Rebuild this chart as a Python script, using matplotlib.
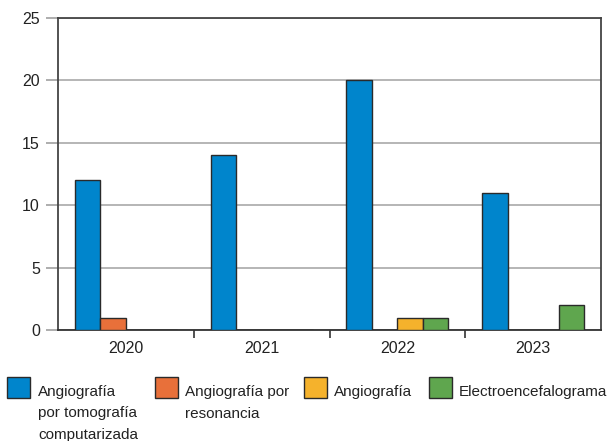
import matplotlib
matplotlib.use("Agg")
import matplotlib.pyplot as plt
import numpy as np
from matplotlib.patches import Rectangle

years = ["2020", "2021", "2022", "2023"]
series_labels = ["Angiografía\npor tomografía\ncomputarizada",
                 "Angiografía por\nresonancia",
                 "Angiografía",
                 "Electroencefalograma"]
values = {
    "ct": [12, 14, 20, 11],
    "mr": [1, 0, 0, 0],
    "ang": [0, 0, 1, 0],
    "eeg": [0, 0, 1, 2],
}
series_keys = ["ct", "mr", "ang", "eeg"]
colors = ["#0085CC", "#E8703A", "#F5B22C", "#5FA64E"]
yticks = [0, 5, 10, 15, 20, 25]

plt.rcParams["font.family"] = ["Liberation Sans", "DejaVu Sans"]

fig = plt.figure(figsize=(6.09, 4.41), dpi=100)
ax = fig.add_axes([58/609, 1-330/441, (601-58)/609, (330-18)/441])

x = np.arange(len(years))
w = 0.1875
for i, k in enumerate(series_keys):
    ax.bar(x + (i - 1.5) * w, values[k], width=w, color=colors[i],
           edgecolor="#2a2a2a", linewidth=1.0, zorder=3)

ax.set_xlim(-0.5, len(years) - 0.5)
ax.set_ylim(0, 25)
ax.set_yticks(yticks)
ax.set_yticklabels([str(t) for t in yticks], fontsize=11.5, color="#222222")
ax.yaxis.grid(True, color="#b5b5b5", linewidth=1.4, zorder=0)
ax.set_axisbelow(True)
ax.tick_params(axis="y", length=9, width=1.2, color="#a0a0a0", pad=4)

ax.set_xticks(x)
ax.set_xticklabels(years, fontsize=11.5, color="#222222")
ax.set_xticks(np.arange(0.5, len(years) - 1, 1.0), minor=True)
ax.tick_params(axis="x", which="major", length=0, pad=8)
ax.tick_params(axis="x", which="minor", length=6, width=1.2, color="#333333")

for s in ["left", "right", "top"]:
    ax.spines[s].set_color("#444444")
    ax.spines[s].set_linewidth(1.3)
ax.spines["bottom"].set_color("#333333")
ax.spines["bottom"].set_linewidth(1.3)

# legend (manual, top-aligned handles)
hx = [7, 155, 304, 429]
tx = [38, 185, 334, 459]
for i, lab in enumerate(series_labels):
    fig.add_artist(Rectangle((hx[i]/609, 1-398/441), 23/609, 21/441,
                             transform=fig.transFigure, facecolor=colors[i],
                             edgecolor="#2a2a2a", linewidth=1.0))
    for j, line in enumerate(lab.split("\n")):
        fig.text(tx[i]/609, 1-(396 + j*21.5)/441, line, fontsize=11,
                 color="#222222", va="baseline", ha="left")

fig.savefig("out.png", dpi=100)
